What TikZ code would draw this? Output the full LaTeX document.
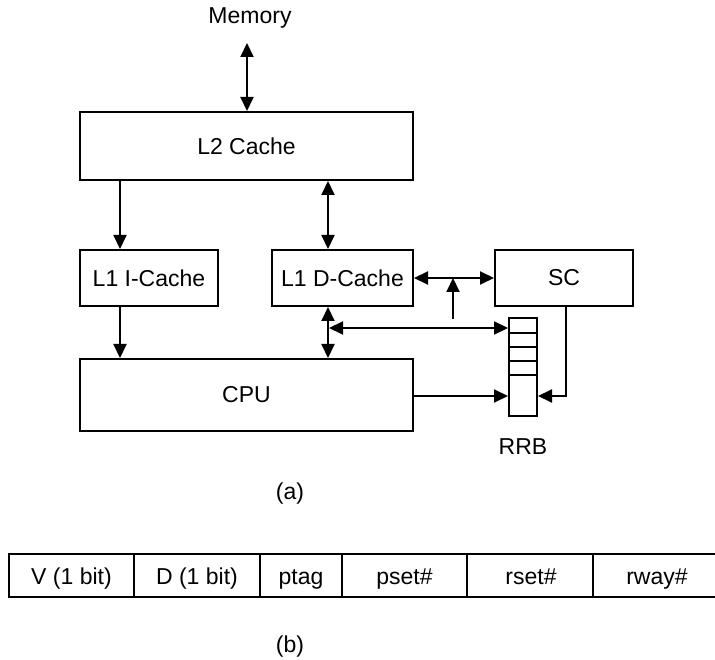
\documentclass[tikz,border=0pt]{standalone}
\usepackage{fontspec}
\setmainfont{Liberation Sans}
\usetikzlibrary{arrows.meta}
\begin{document}
\begin{tikzpicture}[x=1pt,y=-1pt,
  font=\fontsize{23}{27}\selectfont,
  every path/.style={line width=2pt},
  box/.style={draw, line width=2pt, rectangle, inner sep=0pt},
  lbl/.style={inner sep=0pt},
  cellt/.style={inner sep=0pt, anchor=base},
  tip/.style={Triangle[length=14pt,width=13pt]},
  arr/.style={-{Triangle[length=14pt,width=13pt]}},
  darr/.style={{Triangle[length=14pt,width=13pt]}-{Triangle[length=14pt,width=13pt]}}]
\useasboundingbox (0,0) rectangle (715,660);
% nodes
\node[lbl] (mem) at (250,18) {Memory};
\node[box, minimum width=333pt, minimum height=68pt] (l2) at (246.5,146) {L2 Cache};
\node[box, minimum width=138pt, minimum height=56pt] (l1i) at (149,278) {L1 I-Cache};
\node[box, minimum width=141pt, minimum height=56pt] (l1d) at (342.5,278) {L1 D-Cache};
\node[box, minimum width=138pt, minimum height=56pt] (sc) at (564,278) {SC};
\node[box, minimum width=333pt, minimum height=72pt] (cpu) at (246.5,395) {CPU};
\node[box, minimum width=28pt, minimum height=98pt] (rrb) at (523,367) {};
\node[lbl] (rrbl) at (523,447) {RRB};
\node[lbl] (capa) at (290,494) {(a)};
\node[lbl] (capb) at (290,647) {(b)};
% RRB dividers
\foreach \yy in {333,347,361,375} \draw (rrb.west |- 0,\yy) -- (rrb.east |- 0,\yy);
% helper coordinates
\coordinate (memtip) at (247,43);
\coordinate (cI) at (120,0);
\coordinate (cD) at (328,0);
\coordinate (upb) at (453,319);
\coordinate (h1) at (0,328);
\coordinate (h2) at (0,396);
\coordinate (cS) at (566,0);
% connectors
\draw[darr] (memtip) -- (l2.north -| memtip);
\draw[arr] (l2.south -| cI) -- (l1i.north -| cI);
\draw[darr] (l2.south -| cD) -- (l1d.north -| cD);
\draw[arr] (l1i.south -| cI) -- (cpu.north -| cI);
\draw[darr] (l1d.south -| cD) -- (cpu.north -| cD);
\draw[darr] (l1d.east) -- (sc.west);
\draw[arr] (upb) -- (upb |- l1d.east);
\draw[darr] ([xshift=1pt]cD |- h1) -- (rrb.west |- h1);
\draw[arr] (cpu.east |- h2) -- (rrb.west |- h2);
\draw[arr] (sc.south -| cS) |- (rrb.east |- h2);
% table (b)
\node[cellt] (tv) at (71.5,584) {V (1 bit)};
\node[cellt] (td) at (197,584) {D (1 bit)};
\node[cellt] (tp) at (301,584) {ptag};
\node[cellt] (tps) at (404.5,584) {pset\#};
\node[cellt] (trs) at (531,584) {rset\#};
\node[cellt] (trw) at (657,584) {rway\#};
\draw (715,554) -- (9,554) -- (9,597) -- (715,597);
\foreach \xx in {134,260,342,467,593} \draw (\xx,554) -- (\xx,597);
\end{tikzpicture}
\end{document}
